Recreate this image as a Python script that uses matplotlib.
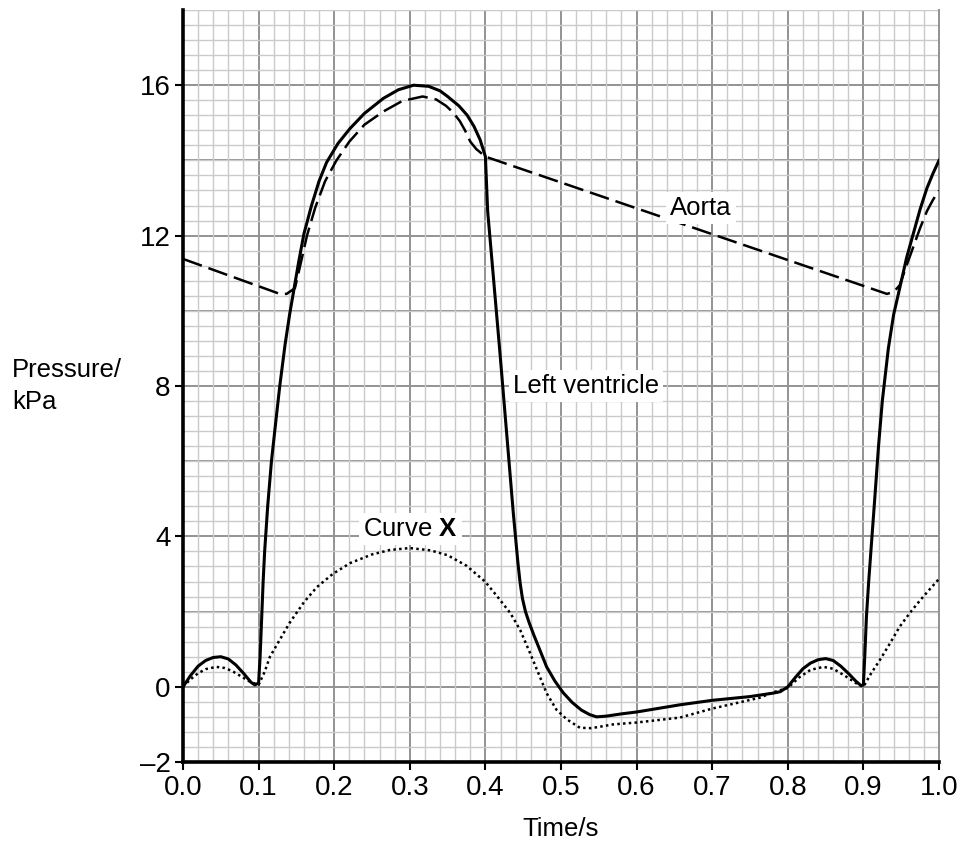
'''
Pressure in the left ventricle and aorta over one cardiac cycle
'''
import matplotlib
matplotlib.use('Agg')
import matplotlib.pyplot as plt
from matplotlib.ticker import MultipleLocator
import numpy as np

plt.rcParams['font.family'] = 'Liberation Sans'
plt.rcParams['mathtext.fontset'] = 'custom'
plt.rcParams['mathtext.rm'] = 'Liberation Sans'
plt.rcParams['mathtext.bf'] = 'Liberation Sans:bold'

# left ventricle (solid)
lv_t = [0.000, 0.010, 0.020, 0.030, 0.040, 0.050, 0.060, 0.070, 0.080, 0.090,
        0.095, 0.100, 0.102, 0.104, 0.106, 0.108, 0.112, 0.117, 0.123, 0.128,
        0.135, 0.141, 0.147, 0.153, 0.160, 0.170, 0.180, 0.190, 0.205, 0.221,
        0.240, 0.265, 0.285, 0.305, 0.325, 0.340, 0.350, 0.365, 0.376, 0.385,
        0.393, 0.400, 0.403, 0.419, 0.437, 0.440, 0.443, 0.446, 0.449, 0.453,
        0.458, 0.464, 0.470, 0.481, 0.492, 0.503, 0.515, 0.527, 0.538, 0.547,
        0.560, 0.580, 0.600, 0.630, 0.657, 0.700, 0.750, 0.780, 0.790, 0.800,
        0.810, 0.820, 0.830, 0.840, 0.850, 0.860, 0.870, 0.880, 0.890, 0.897,
        0.900, 0.902, 0.904, 0.907, 0.910, 0.915, 0.920, 0.925, 0.933, 0.940,
        0.948, 0.957, 0.966, 0.975, 0.984, 0.992, 1.000]
lv_p = [0.00, 0.30, 0.55, 0.70, 0.78, 0.80, 0.74, 0.58, 0.36, 0.12,
        0.05, 0.10, 0.80, 1.80, 2.80, 3.60, 4.80, 6.00, 7.10, 8.00,
        9.10, 9.90, 10.60, 11.30, 12.05, 12.80, 13.45, 13.95, 14.45, 14.85,
        15.25, 15.65, 15.88, 16.00, 15.97, 15.85, 15.70, 15.45, 15.20, 14.90,
        14.55, 14.10, 12.65, 8.94, 4.60, 3.95, 3.30, 2.75, 2.35, 2.00,
        1.70, 1.38, 1.08, 0.53, 0.15, -0.16, -0.42, -0.62, -0.74, -0.80,
        -0.78, -0.72, -0.67, -0.57, -0.48, -0.36, -0.26, -0.17, -0.13, 0.00,
        0.25, 0.48, 0.63, 0.72, 0.75, 0.70, 0.55, 0.36, 0.15, 0.03,
        0.05, 0.90, 1.86, 2.80, 3.63, 5.00, 6.40, 7.60, 9.00, 9.90,
        10.60, 11.40, 12.05, 12.70, 13.26, 13.65, 14.00]

# aorta (dashed)
ao_t = [0.000, 0.128, 0.137, 0.148, 0.155, 0.164, 0.175, 0.188, 0.203, 0.220,
        0.240, 0.265, 0.290, 0.317, 0.335, 0.348, 0.357, 0.366, 0.373, 0.380,
        0.388, 0.400, 0.931, 0.940, 0.948, 0.957, 0.966, 0.975, 0.984, 0.992,
        1.000]
ao_p = [11.38, 10.45, 10.45, 10.60, 11.20, 12.00, 12.75, 13.45, 14.00, 14.50,
        14.95, 15.30, 15.58, 15.70, 15.62, 15.45, 15.28, 15.05, 14.80, 14.50,
        14.30, 14.10, 10.45, 10.50, 10.68, 11.20, 11.70, 12.20, 12.65, 12.95,
        13.20]

# curve X (dotted)
cx_t = [0.000, 0.010, 0.020, 0.030, 0.044, 0.055, 0.065, 0.075, 0.089, 0.100,
        0.108, 0.115, 0.128, 0.141, 0.160, 0.177, 0.198, 0.221, 0.250, 0.274,
        0.300, 0.327, 0.350, 0.375, 0.400, 0.415, 0.433, 0.446, 0.459, 0.472,
        0.481, 0.494, 0.508, 0.525, 0.540, 0.552, 0.569, 0.600, 0.657, 0.700,
        0.763, 0.780, 0.800, 0.815, 0.830, 0.847, 0.860, 0.875, 0.890, 0.900,
        0.910, 0.922, 0.935, 0.948, 0.962, 0.975, 0.988, 1.000]
cx_p = [0.00, 0.20, 0.36, 0.47, 0.53, 0.50, 0.42, 0.30, 0.13, 0.05,
        0.40, 0.80, 1.25, 1.70, 2.25, 2.65, 3.00, 3.29, 3.52, 3.64,
        3.69, 3.63, 3.50, 3.22, 2.79, 2.42, 1.96, 1.51, 0.90, 0.27,
        -0.17, -0.61, -0.87, -1.09, -1.10, -1.06, -1.00, -0.95, -0.82, -0.58,
        -0.29, -0.15, -0.03, 0.25, 0.45, 0.53, 0.48, 0.30, 0.10, 0.00,
        0.35, 0.72, 1.15, 1.60, 1.98, 2.30, 2.60, 2.87]

x_ticks = [0.0, 0.1, 0.2, 0.3, 0.4, 0.5, 0.6, 0.7, 0.8, 0.9, 1.0]
y_ticks = [-2, 0, 4, 8, 12, 16]

fig = plt.figure(figsize=(9.64, 8.46), dpi=100)
ax = fig.add_axes([183/964, 84/846, 756/964, 752/846])

ax.set_xlim(0, 1.0)
ax.set_ylim(-2, 18)

# graph paper grid
ax.xaxis.set_minor_locator(MultipleLocator(0.02))
ax.yaxis.set_minor_locator(MultipleLocator(0.4))
ax.grid(which='minor', color='#cacaca', lw=1.0, zorder=0)
ax.grid(which='major', axis='x', color='#939393', lw=1.4, zorder=0)
for yv in np.arange(-2, 19, 2):
    ax.axhline(yv, color='#939393', lw=1.4, zorder=0.5)
ax.set_axisbelow(True)

ax.plot(lv_t, lv_p, color='black', lw=2.2, zorder=3)
ax.plot(ao_t, ao_p, color='black', lw=1.8, dashes=(8, 2.8), zorder=3)
ax.plot(cx_t, cx_p, color='black', lw=1.8, dashes=(1, 1.3), zorder=3)

ax.set_xticks(x_ticks)
ax.set_xticklabels(['%.1f' % v for v in x_ticks])
ax.set_yticks(y_ticks)
ax.set_yticklabels(['\u2013' + str(-v) if v < 0 else str(v) for v in y_ticks])
ax.tick_params(which='major', direction='out', length=6, width=1.5, labelsize=20, pad=3)
ax.tick_params(which='minor', length=0)

ax.spines['top'].set_visible(False)
ax.spines['right'].set_color('#939393')
ax.spines['right'].set_linewidth(1.4)
ax.spines['left'].set_linewidth(2.6)
ax.spines['bottom'].set_linewidth(2.6)

box = dict(facecolor='white', edgecolor='none', pad=3)
ax.text(0.685, 12.73, 'Aorta', fontsize=18.5, ha='center', va='center', bbox=box, zorder=4)
ax.text(0.4365, 8.0, 'Left ventricle', fontsize=18.5, ha='left', va='center', bbox=box, zorder=4)
ax.text(0.301, 4.19, r'Curve $\mathbf{X}$', fontsize=18.5, ha='center', va='center', bbox=box, zorder=4)

fig.text(12/964, (846-377)/846, 'Pressure/', fontsize=18.5, ha='left', va='baseline')
fig.text(12/964, (846-409)/846, 'kPa', fontsize=18.5, ha='left', va='baseline')
fig.text(561/964, (846-836)/846, 'Time/s', fontsize=18.5, ha='center', va='baseline')

plt.savefig('out.png', dpi=100)
